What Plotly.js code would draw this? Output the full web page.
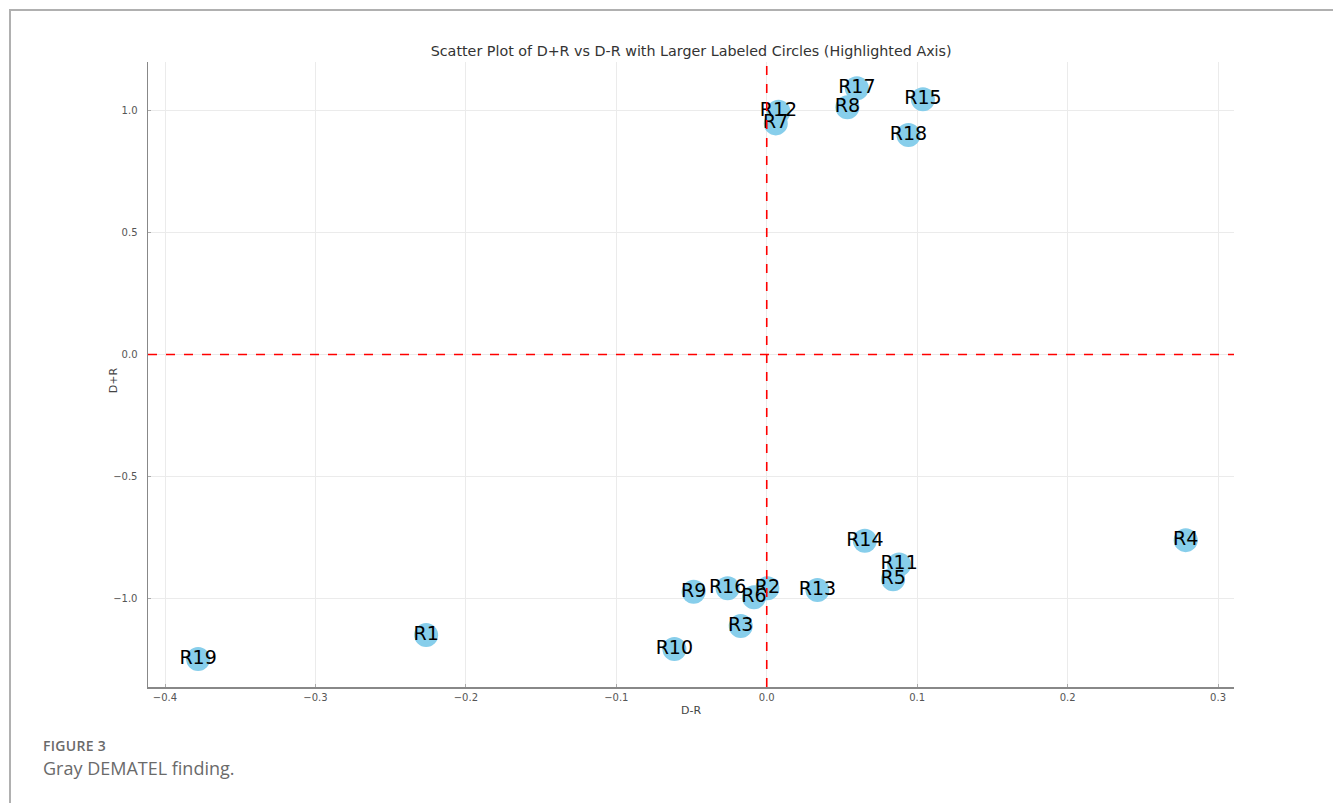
<!DOCTYPE html>
<html>
<head>
<meta charset="utf-8">
<script src="https://cdn.plot.ly/plotly-3.0.1.min.js"></script>
<style>
  html, body { margin: 0; padding: 0; background: #fff; }
  #frame { position: absolute; left: 9px; top: 9px; width: 1322px; height: 800px;
           border-top: 2px solid #b0b0b0; border-left: 2px solid #b0b0b0; border-right: 2px solid #b0b0b0; }
  #chart { position: absolute; left: 0; top: 0; width: 1333px; height: 803px; }
  #figlabel { position: absolute; left: 43px; top: 736px; font-family: "Open Sans", sans-serif;
              font-weight: 600; font-size: 14px; color: #6a6a6a; letter-spacing: 0.3px; }
  #caption { position: absolute; left: 43px; top: 756px; font-family: "Open Sans", sans-serif;
             font-size: 18px; color: #6a6a6a; }
</style>
</head>
<body>
<div id="frame"></div>
<div id="chart"></div>
<div id="figlabel">FIGURE 3</div>
<div id="caption">Gray DEMATEL finding.</div>
<script>
const labels = ["R1","R2","R3","R4","R5","R6","R7","R8","R9","R10","R11","R12","R13","R14","R15","R16","R17","R18","R19"];
const dMinusR = [-0.2264, 0.0004, -0.0173, 0.2785, 0.0840, -0.0085, 0.0060, 0.0536, -0.0486, -0.0614, 0.0880, 0.0078, 0.0337, 0.0652, 0.1038, -0.0260, 0.0599, 0.0942, -0.3780];
const dPlusR  = [-1.152, -0.960, -1.115, -0.762, -0.923, -0.997, 0.949, 1.015, -0.974, -1.209, -0.862, 0.997, -0.967, -0.765, 1.048, -0.960, 1.093, 0.901, -1.250];
const xTicks = [-0.4, -0.3, -0.2, -0.1, 0.0, 0.1, 0.2, 0.3];
const yTicks = [-1.0, -0.5, 0.0, 0.5, 1.0];

const fmt = v => (v < 0 ? "\u2212" : "") + Math.abs(v).toFixed(1);

const trace = {
  x: dMinusR, y: dPlusR, text: labels,
  mode: "markers+text", type: "scatter",
  marker: { size: 24, color: "#87CEEB", line: { width: 0 } },
  textposition: "middle center",
  textfont: { family: "DejaVu Sans", size: 19, color: "#000" },
  hoverinfo: "skip", cliponaxis: false
};

const axisCommon = {
  showgrid: true, gridcolor: "#ebebeb", gridwidth: 1,
  zeroline: false, showline: true, linecolor: "#888", linewidth: 1.5,
  ticks: "inside", ticklen: 3, tickcolor: "#aaa",
  tickfont: { family: "DejaVu Sans", size: 10, color: "#555" }
};

const layout = {
  width: 1333, height: 803,
  margin: { l: 148, r: 99, t: 62, b: 116 },
  paper_bgcolor: "rgba(0,0,0,0)", plot_bgcolor: "rgba(0,0,0,0)",
  showlegend: false,
  title: { text: "Scatter Plot of D+R vs D-R with Larger Labeled Circles (Highlighted Axis)",
           font: { family: "DejaVu Sans", size: 14.3, color: "#333" },
           x: 0.5185, xanchor: "center", y: 0.937, yanchor: "middle" },
  xaxis: Object.assign({}, axisCommon, {
    range: [-0.4113, 0.3106], tickvals: xTicks, ticktext: xTicks.map(fmt),
    ticklabelstandoff: 0,
    title: { text: "D-R", font: { family: "DejaVu Sans", size: 11, color: "#444" }, standoff: 5 }
  }),
  yaxis: Object.assign({}, axisCommon, {
    range: [-1.365, 1.201], tickvals: yTicks, ticktext: yTicks.map(fmt),
    ticklabelstandoff: 7
  }),
  annotations: [
    { text: "D+R", xref: "paper", yref: "paper", x: -0.0322, y: 0.491,
      xanchor: "center", yanchor: "middle", textangle: -90, showarrow: false,
      font: { family: "DejaVu Sans", size: 11, color: "#444" } }
  ],
  shapes: [
    { type: "line", xref: "x", yref: "paper", x0: 0, x1: 0, y0: 0, y1: 1,
      line: { color: "#ff0000", width: 1.6, dash: "dash" }, layer: "above" },
    { type: "line", xref: "paper", yref: "y", x0: 0, x1: 1, y0: 0, y1: 0,
      line: { color: "#ff0000", width: 1.6, dash: "dash" }, layer: "above" }
  ]
};

Plotly.newPlot("chart", [trace], layout, { displayModeBar: false, staticPlot: true });
</script>
</body>
</html>
